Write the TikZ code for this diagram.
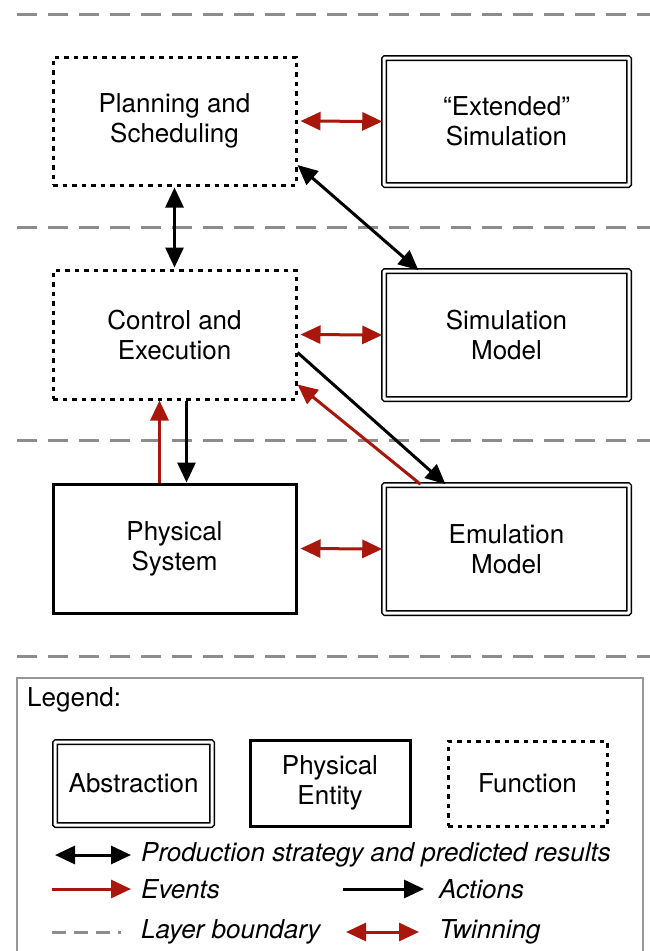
\documentclass[tikz,border=0pt]{standalone}
\usepackage{fontspec}
\setmainfont{TeX Gyre Heros}
\usetikzlibrary{arrows.meta,calc}
\definecolor{evred}{RGB}{168,22,12}
\definecolor{laygray}{RGB}{140,140,140}
\begin{document}
\begin{tikzpicture}[x=1pt,y=-1pt,
  txt/.style={font=\fontsize{26}{30}\selectfont, align=center, inner sep=0pt},
  legtxt/.style={font=\fontsize{26}{30}\selectfont\itshape, anchor=west, inner sep=0pt},
  fnbox/.style={txt, draw, line width=3pt, dash pattern=on 4.5pt off 5pt, rectangle},
  absbox/.style={txt, draw, line width=1.5pt, double=white, double distance=3pt, rounded corners=1pt, rectangle},
  physbox/.style={txt, draw, line width=3pt, rectangle},
  pred/.style={line width=3pt, {Triangle[length=20pt,width=18pt]}-{Triangle[length=20pt,width=18pt]}},
  act/.style={line width=3pt, -{Triangle[length=20pt,width=18pt]}},
  ev/.style={line width=3pt, draw=evred, -{Triangle[length=20pt,width=18pt]}, evred},
  twin/.style={line width=3pt, draw=evred, evred, {Triangle[length=20pt,width=18pt]}-{Triangle[length=20pt,width=18pt]}},
  layer/.style={draw=laygray, line width=3pt, dash pattern=on 20pt off 11pt}
]
\useasboundingbox (0,0) rectangle (650,951);

% layer boundaries
\coordinate (l1a) at (17,14);  \coordinate (l1b) at (650,14);
\coordinate (l2a) at (17,227); \coordinate (l2b) at (650,227);
\coordinate (l3a) at (17,440); \coordinate (l3b) at (650,440);
\coordinate (l4a) at (17,656); \coordinate (l4b) at (650,656);
\draw[layer] (l1a) -- (l1b);
\draw[layer] (l2a) -- (l2b);
\draw[layer] (l3a) -- (l3b);
\draw[layer] (l4a) -- (l4b);

% main nodes
\node[fnbox, minimum width=243pt, minimum height=128pt] (plan) at (174.5,121) {Planning and\\Scheduling};
\node[absbox, minimum width=245pt, minimum height=127pt] (ext) at (506.5,121.5) {“Extended”\\Simulation};
\node[fnbox, minimum width=243pt, minimum height=129pt] (ctrl) at (174.5,334.5) {Control and\\Execution};
\node[absbox, minimum width=245pt, minimum height=128pt] (sim) at (506.5,335) {Simulation\\Model};
\node[physbox, minimum width=243pt, minimum height=129pt] (phys) at (174.5,548.5) {Physical\\System};
\node[absbox, minimum width=245pt, minimum height=128pt] (emu) at (506.5,549) {Emulation\\Model};

% connectors
\draw[twin, shorten <=3pt, shorten >=1pt] (plan.east) -- (ext.west);
\draw[twin, shorten <=3pt, shorten >=1pt] (ctrl.east) -- (sim.west);
\draw[twin, shorten <=3pt, shorten >=1pt] (phys.east) -- (emu.west);
\draw[pred, shorten <=1pt, shorten >=1pt] (plan.south) -- (ctrl.north);
\draw[pred] ([yshift=-44pt]plan.east) -- ([xshift=-88pt]sim.north);
\draw[act] ([yshift=-18pt]ctrl.east) -- ([xshift=-61pt]emu.north);
\draw[ev] ([xshift=-86pt]emu.north) -- ([yshift=-50pt]ctrl.east);
\draw[ev] ([xshift=-15pt]phys.north) -- ([xshift=-15pt]ctrl.south);
\draw[act] ([xshift=12pt]ctrl.south) -- ([xshift=12pt]phys.north);

% legend frame
\coordinate (fa) at (17,951); \coordinate (fb) at (17,678);
\coordinate (fc) at (643,678); \coordinate (fd) at (643,951);
\draw[draw=laygray!90, line width=1.3pt] (fa) -- (fb) -- (fc) -- (fd);
\node[font=\fontsize{26}{30}\selectfont, anchor=west, inner sep=0pt] (legtitle) at (27,700) {Legend:};

\node[absbox, minimum width=157pt, minimum height=83pt] (labs) at (133.5,783.5) {Abstraction};
\node[physbox, minimum width=160pt, minimum height=86pt] (lphys) at (330,783) {Physical\\Entity};
\node[fnbox, minimum width=159pt, minimum height=85pt] (lfn) at (527.5,783.5) {Function};

\coordinate (pa) at (55,855); \coordinate (pb) at (131,855);
\draw[pred] (pa) -- (pb);
\node[legtxt] (tp) at (141,855) {Production strategy and predicted results};

\coordinate (ea) at (52,889); \coordinate (eb) at (131,889);
\draw[ev] (ea) -- (eb);
\node[legtxt] (te) at (141,889) {Events};

\coordinate (aa) at (343,889); \coordinate (ab) at (424,889);
\draw[act] (aa) -- (ab);
\node[legtxt] (ta) at (439,889) {Actions};

\coordinate (da) at (52,932); \coordinate (db) at (133,932);
\draw[draw=laygray, line width=3pt, dash pattern=on 14pt off 8pt on 14pt off 8pt on 14pt off 8pt on 3pt off 20pt] (da) -- (db);
\node[legtxt] (tl) at (141,932) {Layer boundary};

\coordinate (ta1) at (346,932); \coordinate (ta2) at (419,932);
\draw[twin] (ta1) -- (ta2);
\node[legtxt] (tt) at (439,932) {Twinning};
\end{tikzpicture}
\end{document}
